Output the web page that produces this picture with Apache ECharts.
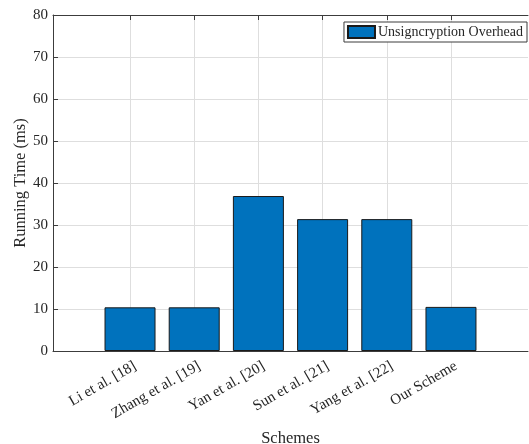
<!DOCTYPE html>
<html>
<head>
<meta charset="utf-8">
<script src="https://cdn.jsdelivr.net/npm/echarts@6/dist/echarts.min.js"></script>
<style>
html,body{margin:0;padding:0;background:#fff;}
#chart{width:529px;height:444px;}
</style>
</head>
<body>
<div id="chart"></div>
<script>
const categories = ['Li et al. [18]', 'Zhang et al. [19]', 'Yan et al. [20]', 'Sun et al. [21]', 'Yang et al. [22]', 'Our Scheme'];
const positions = [1, 2, 3, 4, 5, 6];
const unsigncryption = [10.4, 10.4, 36.9, 31.4, 31.4, 10.5];
const yTicks = [0, 10, 20, 30, 40, 50, 60, 70, 80];
const seriesName = 'Unsigncryption Overhead';

const FONT = '"Liberation Serif", "DejaVu Serif", serif';
const TXT = '#262626';
const AX = '#3c3c3c';

const chart = echarts.init(document.getElementById('chart'), null, {renderer: 'canvas'});
chart.setOption({
  animation: false,
  backgroundColor: '#fff',
  textStyle: {fontFamily: FONT},
  grid: {left: 53, right: 1, top: 15, bottom: 93, containLabel: false, outerBoundsMode: 'none'},
  legend: {
    data: [seriesName],
    right: 2, top: 22,
    orient: 'horizontal',
    itemWidth: 27, itemHeight: 12,
    padding: [3, 4, 3, 3],
    borderColor: '#3c3c3c', borderWidth: 1,
    backgroundColor: '#fff',
    textStyle: {fontFamily: FONT, fontSize: 14, color: TXT, padding: [0, 0, 0, -2]},
    icon: 'rect'
  },
  xAxis: [{
    type: 'value',
    min: -0.2, max: 7.2,
    position: 'bottom',
    name: 'Schemes',
    nameLocation: 'middle',
    nameGap: 79,
    nameMoveOverlap: false,
    nameTextStyle: {fontFamily: FONT, fontSize: 16.5, color: TXT},
    axisLine: {show: true, onZero: false, lineStyle: {color: AX, width: 1}},
    axisTick: {show: true, inside: true, length: 5, customValues: positions, lineStyle: {color: AX}},
    axisLabel: {
      show: true, customValues: positions, rotate: 30, margin: 17,
      padding: [0, -6, 0, 0],
      fontFamily: FONT, fontSize: 15, color: TXT,
      formatter: function (v) { return categories[Math.round(v) - 1] || ''; }
    },
    splitLine: {show: true, lineStyle: {color: '#dedede', width: 1}}
  }, {
    type: 'value',
    min: -0.2, max: 7.2,
    position: 'top',
    axisLine: {show: true, onZero: false, lineStyle: {color: AX, width: 1}},
    axisTick: {show: true, inside: true, length: 5, customValues: positions, lineStyle: {color: AX}},
    axisLabel: {show: false},
    splitLine: {show: false}
  }],
  yAxis: {
    type: 'value',
    min: 0, max: 80, interval: 10,
    name: 'Running Time (ms)',
    nameLocation: 'middle',
    nameGap: 24,
    nameMoveOverlap: false,
    nameTextStyle: {fontFamily: FONT, fontSize: 16.5, color: TXT},
    axisLine: {show: true, onZero: false, lineStyle: {color: AX, width: 1}},
    axisTick: {show: true, inside: true, length: 5, lineStyle: {color: AX}},
    axisLabel: {show: true, margin: 5, fontFamily: FONT, fontSize: 15, color: TXT,
      formatter: function (v) { return yTicks.indexOf(v) >= 0 ? String(v) : ''; }},
    splitLine: {show: true, lineStyle: {color: '#dedede', width: 1}}
  },
  series: [{
    name: seriesName,
    type: 'bar',
    xAxisIndex: 0,
    data: positions.map((p, i) => [p, unsigncryption[i]]),
    barWidth: 51,
    clip: false,
    itemStyle: {color: '#0072BD', borderColor: '#1a1a1a', borderWidth: 1}
  }]
});
</script>
</body>
</html>
